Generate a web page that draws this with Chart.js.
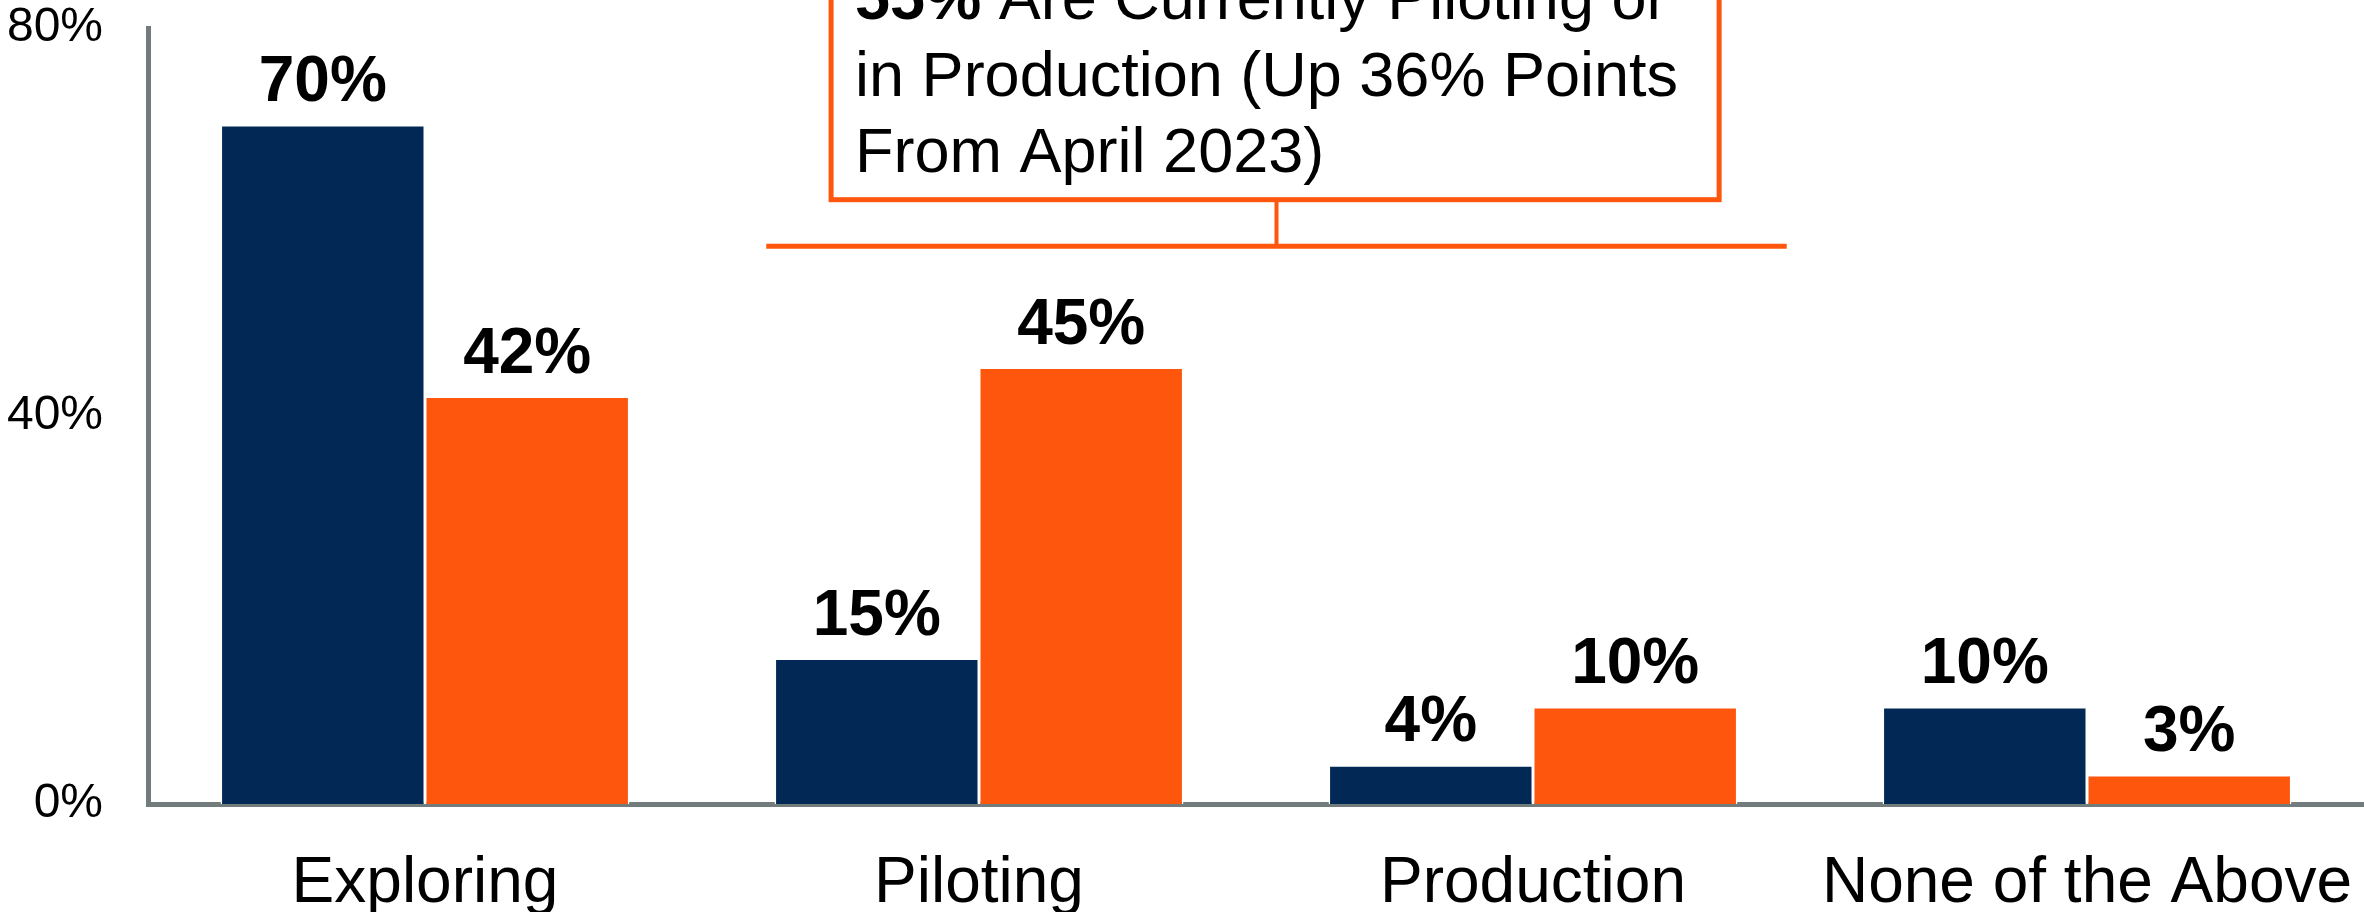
<!DOCTYPE html>
<html>
<head>
<meta charset="utf-8">
<script src="https://cdn.jsdelivr.net/npm/chart.js@4.4.1/dist/chart.umd.min.js"></script>
<style>
  html, body { margin: 0; padding: 0; background: #fff; overflow: hidden; }
  #wrap { width: 2364px; height: 912px; position: relative; }
</style>
</head>
<body>
<div id="wrap"><canvas id="chart"></canvas></div>
<script>
const categories = ["Exploring", "Piloting", "Production", "None of the Above"];
const april2023 = [70, 15, 4, 10];
const current = [42, 45, 10, 3];
const yTicks = [0, 40, 80];
const calloutLines = [
  ["55%", " Are Currently Piloting or"],
  ["", "in Production (Up 36% Points"],
  ["", "From April 2023)"],
];

const COLORS = {
  navy: "#022955",
  orange: "#FE570D",
  axis: "#737C7C",
  text: "#000000",
};
const FONT = "'Liberation Sans', Arial, sans-serif";

// bold % labels above each bar
const valueLabels = {
  id: "valueLabels",
  afterDatasetsDraw(chart) {
    const { ctx } = chart;
    ctx.save();
    ctx.font = `bold 64px ${FONT}`;
    ctx.fillStyle = COLORS.text;
    ctx.textAlign = "center";
    ctx.textBaseline = "alphabetic";
    chart.data.datasets.forEach((ds, i) => {
      chart.getDatasetMeta(i).data.forEach((bar, j) => {
        ctx.fillText(ds.data[j] + "%", bar.x, bar.y - 24);
      });
    });
    ctx.restore();
  },
};

// orange callout box + bracket over Piloting / Production
const callout = {
  id: "callout",
  afterDraw(chart) {
    const { ctx, scales: { x, y } } = chart;
    const left = x.getPixelForValue(0.616);
    const right = x.getPixelForValue(2.458);
    const boxL = x.getPixelForValue(0.733);
    const boxR = x.getPixelForValue(2.336);
    const mid = (left + right) / 2;
    const lineY = y.getPixelForValue(57.5);
    const boxB = y.getPixelForValue(62.3);

    ctx.save();
    ctx.strokeStyle = COLORS.orange;
    ctx.lineWidth = 5;
    ctx.beginPath();
    ctx.moveTo(left, lineY);
    ctx.lineTo(right, lineY);
    ctx.stroke();

    ctx.lineWidth = 4;
    ctx.beginPath();
    ctx.moveTo(mid, lineY);
    ctx.lineTo(mid, boxB);
    ctx.stroke();

    ctx.fillStyle = "#fff";
    ctx.fillRect(boxL, -200, boxR - boxL, boxB + 200);
    ctx.lineWidth = 5;
    ctx.strokeRect(boxL, -200, boxR - boxL, boxB + 200);

    ctx.fillStyle = COLORS.text;
    ctx.textAlign = "left";
    ctx.textBaseline = "alphabetic";
    const baselines = [boxB - 181, boxB - 104, boxB - 28];
    calloutLines.forEach(([bold, rest], i) => {
      let tx = boxL + 24;
      if (bold) {
        ctx.font = `bold 63px ${FONT}`;
        ctx.fillText(bold, tx, baselines[i]);
        tx += ctx.measureText(bold).width;
      }
      ctx.font = `63px ${FONT}`;
      ctx.fillText(rest, tx, baselines[i]);
    });
    ctx.restore();
  },
};

new Chart(document.getElementById("chart"), {
  type: "bar",
  data: {
    labels: categories,
    datasets: [
      { label: "April 2023", data: april2023, backgroundColor: COLORS.navy, borderColor: "#fff", borderWidth: 1.5 },
      { label: "Current", data: current, backgroundColor: COLORS.orange, borderColor: "#fff", borderWidth: 1.5 },
    ],
  },
  options: {
    responsive: true,
    maintainAspectRatio: false,
    animation: false,
    layout: { padding: { top: 28, right: 0, bottom: 0, left: 0 } },
    datasets: { bar: { categoryPercentage: 0.738, barPercentage: 1.0 } },
    scales: {
      x: {
        grid: { display: false, drawTicks: false },
        border: { display: true, color: COLORS.axis, width: 5 },
        ticks: { color: COLORS.text, font: { family: FONT, size: 64, lineHeight: 1 }, padding: 48, maxRotation: 0, autoSkip: false },
        afterFit: (scale) => {
          scale.height = 108;
          scale.paddingLeft = 0;
          scale.paddingRight = 0;
        },
      },
      y: {
        min: 0,
        max: 80,
        grid: { display: false, drawTicks: false },
        border: { display: true, color: COLORS.axis, width: 5 },
        afterBuildTicks: (scale) => { scale.ticks = yTicks.map((v) => ({ value: v })); },
        ticks: { color: COLORS.text, font: { family: FONT, size: 48, lineHeight: 1.15 }, padding: 45, callback: (v) => v + "%" },
        afterFit: (scale) => {
          scale.width = 148;
          scale.paddingTop = 0;
          scale.paddingBottom = 0;
        },
      },
    },
    plugins: { legend: { display: false }, tooltip: { enabled: false } },
  },
  plugins: [valueLabels, callout],
});
</script>
</body>
</html>
